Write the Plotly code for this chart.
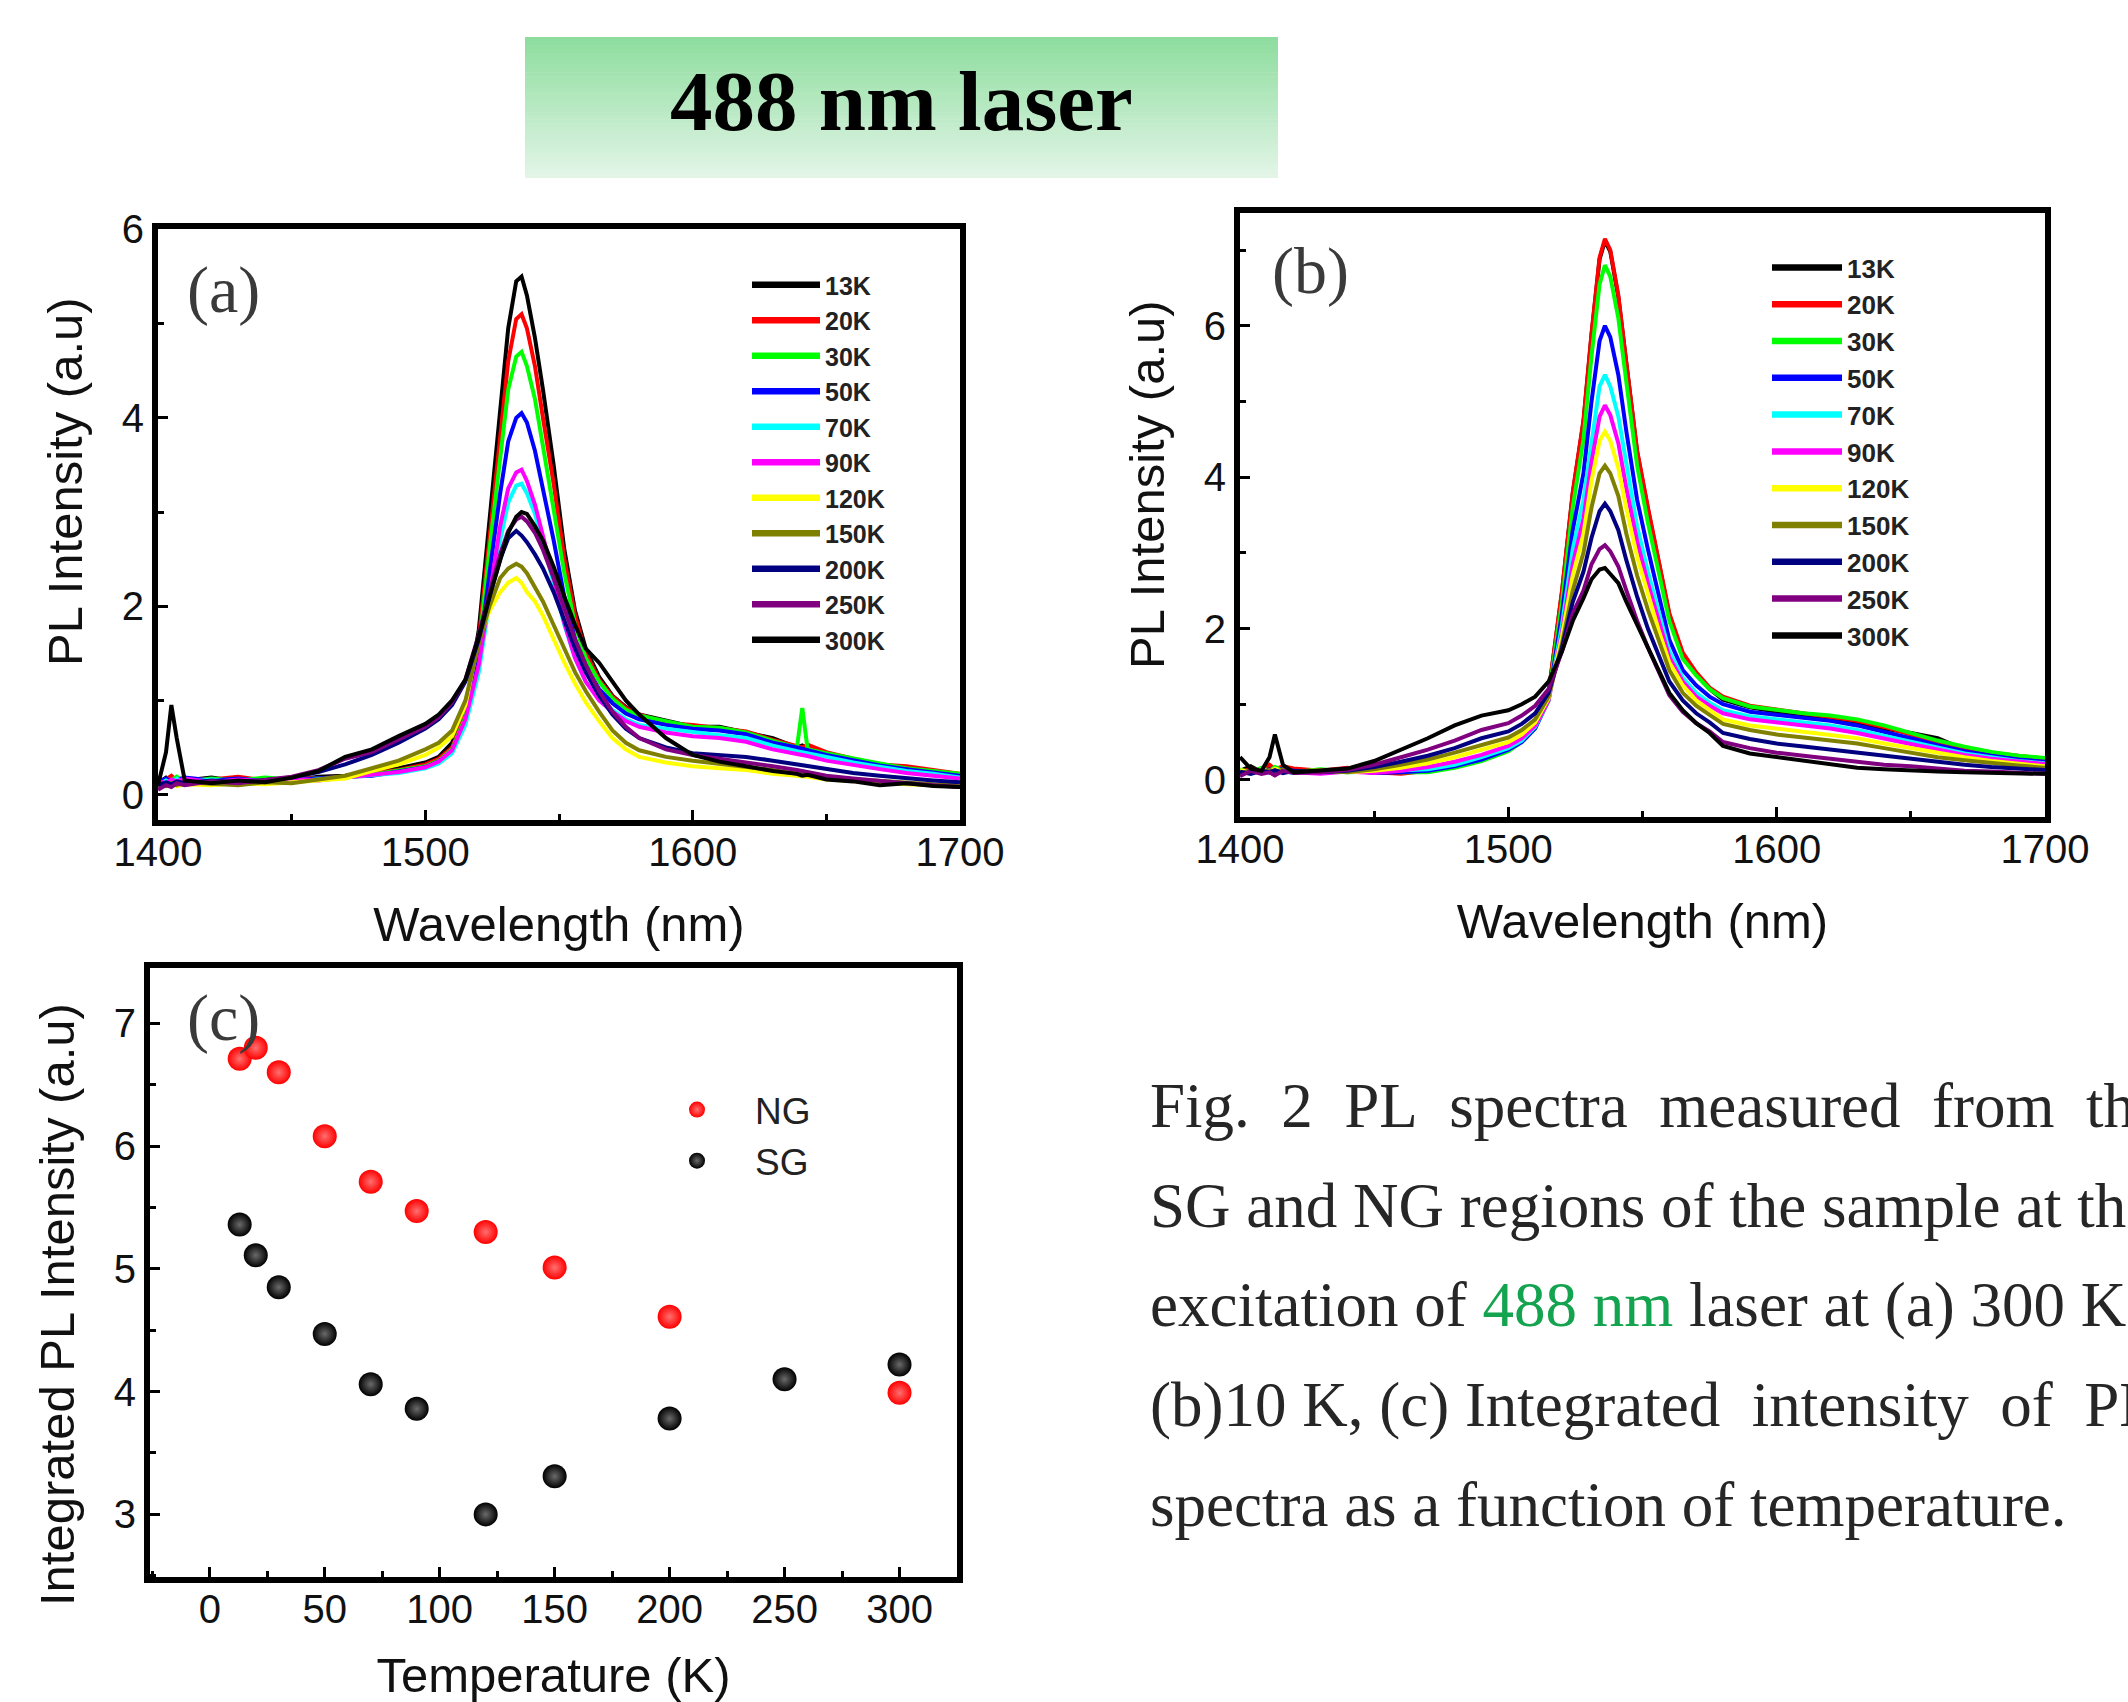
import plotly.graph_objects as go

W, H = 2128, 1702

# ---------------- data ----------------
TEMPS = ["13K", "20K", "30K", "50K", "70K", "90K", "120K", "150K", "200K", "250K", "300K"]
COLORS = ["#000000", "#FF0000", "#00FF00", "#0000FF", "#00FFFF", "#FF00FF",
          "#FFFF00", "#808000", "#000080", "#800080", "#000000"]

WAVELENGTH_A = [1400, 1403, 1405, 1407, 1410, 1420, 1430, 1440, 1450, 1460, 1470, 1480, 1490, 1500,
                1505, 1510, 1515, 1520, 1524, 1528, 1531, 1534, 1536, 1538, 1541, 1544, 1548, 1552,
                1556, 1560, 1565, 1570, 1575, 1580, 1590, 1600, 1610, 1620, 1630, 1639, 1641, 1643,
                1650, 1660, 1670, 1680, 1690, 1700]

A_13K = [0.12, 0.18, 0.14, 0.17, 0.15, 0.18, 0.14, 0.17, 0.15, 0.19, 0.2, 0.24, 0.28, 0.34, 0.4, 0.55,
         0.9, 1.75, 2.9, 4.1, 4.95, 5.45, 5.5, 5.3, 4.85, 4.3, 3.5, 2.6, 1.95, 1.55, 1.25, 1.05, 0.93,
         0.85, 0.78, 0.72, 0.72, 0.66, 0.6, 0.5, 0.52, 0.48, 0.42, 0.36, 0.3, 0.26, 0.22, 0.2]
A_20K = [0.14, 0.16, 0.2, 0.15, 0.17, 0.16, 0.19, 0.15, 0.18, 0.17, 0.19, 0.22, 0.26, 0.32, 0.38, 0.5,
         0.85, 1.65, 2.75, 3.85, 4.6, 5.05, 5.1, 4.95, 4.55, 4.0, 3.3, 2.5, 1.9, 1.5, 1.22, 1.04, 0.92,
         0.85, 0.76, 0.74, 0.7, 0.67, 0.58, 0.52, 0.5, 0.53, 0.45, 0.38, 0.32, 0.3, 0.26, 0.22]
A_30K = [0.16, 0.13, 0.15, 0.19, 0.14, 0.17, 0.15, 0.18, 0.16, 0.17, 0.18, 0.21, 0.25, 0.3, 0.36, 0.48,
         0.82, 1.55, 2.6, 3.6, 4.3, 4.65, 4.7, 4.55, 4.2, 3.7, 3.05, 2.35, 1.8, 1.45, 1.2, 1.02, 0.9,
         0.84, 0.78, 0.72, 0.71, 0.66, 0.57, 0.5, 0.92, 0.48, 0.44, 0.38, 0.33, 0.28, 0.25, 0.22]
A_50K = [0.13, 0.17, 0.14, 0.16, 0.18, 0.15, 0.17, 0.14, 0.16, 0.18, 0.19, 0.2, 0.24, 0.29, 0.35, 0.46,
         0.78, 1.45, 2.35, 3.2, 3.75, 4.0, 4.05, 3.95, 3.65, 3.25, 2.7, 2.1, 1.65, 1.35, 1.12, 0.97, 0.86,
         0.8, 0.74, 0.7, 0.68, 0.64, 0.55, 0.5, 0.48, 0.47, 0.42, 0.36, 0.31, 0.27, 0.24, 0.2]
A_70K = [0.1, 0.15, 0.12, 0.17, 0.13, 0.16, 0.12, 0.15, 0.14, 0.16, 0.18, 0.2, 0.23, 0.28, 0.33, 0.44,
         0.74, 1.3, 2.05, 2.7, 3.1, 3.28, 3.3, 3.2, 2.98, 2.68, 2.25, 1.8, 1.45, 1.2, 1.02, 0.9, 0.8,
         0.74, 0.7, 0.66, 0.63, 0.6, 0.52, 0.46, 0.45, 0.44, 0.4, 0.34, 0.29, 0.25, 0.22, 0.18]
A_90K = [0.15, 0.12, 0.16, 0.14, 0.17, 0.13, 0.16, 0.14, 0.17, 0.15, 0.18, 0.21, 0.24, 0.29, 0.35, 0.47,
         0.8, 1.38, 2.15, 2.85, 3.25, 3.42, 3.45, 3.33, 3.08, 2.75, 2.3, 1.82, 1.45, 1.2, 1.0, 0.88, 0.78,
         0.72, 0.66, 0.62, 0.6, 0.56, 0.48, 0.43, 0.42, 0.41, 0.36, 0.31, 0.27, 0.23, 0.2, 0.17]
A_120K = [0.08, 0.1, 0.12, 0.09, 0.11, 0.1, 0.12, 0.11, 0.13, 0.15, 0.17, 0.25, 0.32, 0.42, 0.5, 0.62,
          0.95, 1.65, 1.95, 2.15, 2.25, 2.3, 2.25, 2.15, 2.05, 1.9, 1.65, 1.4, 1.18, 0.98, 0.78, 0.6, 0.48,
          0.4, 0.34, 0.3, 0.28, 0.26, 0.22, 0.2, 0.19, 0.19, 0.16, 0.14, 0.12, 0.11, 0.1, 0.09]
A_150K = [0.1, 0.09, 0.12, 0.1, 0.13, 0.11, 0.1, 0.13, 0.12, 0.16, 0.2, 0.28, 0.36, 0.48, 0.55, 0.68,
          1.0, 1.6, 2.0, 2.3, 2.4, 2.45, 2.42, 2.35, 2.2, 2.05, 1.8, 1.55, 1.3, 1.1, 0.88, 0.68, 0.55,
          0.47, 0.4, 0.36, 0.33, 0.3, 0.26, 0.22, 0.21, 0.21, 0.18, 0.16, 0.14, 0.12, 0.11, 0.1]
A_200K = [0.1, 0.13, 0.11, 0.14, 0.12, 0.15, 0.13, 0.16, 0.18, 0.24, 0.32, 0.42, 0.55, 0.7, 0.8, 0.95,
          1.2, 1.65, 2.1, 2.5, 2.72, 2.8, 2.75, 2.68, 2.55, 2.4, 2.15, 1.85, 1.55, 1.3, 1.05, 0.85, 0.7,
          0.6, 0.5, 0.44, 0.42, 0.4, 0.36, 0.32, 0.31, 0.3, 0.27, 0.23, 0.2, 0.17, 0.15, 0.13]
A_250K = [0.05, 0.1, 0.08, 0.12, 0.1, 0.14, 0.12, 0.16, 0.19, 0.26, 0.38, 0.45, 0.58, 0.72, 0.82, 0.98,
          1.22, 1.7, 2.15, 2.55, 2.8, 2.92, 2.95, 2.9, 2.78, 2.6, 2.3, 1.98, 1.65, 1.38, 1.1, 0.88, 0.72,
          0.6, 0.48, 0.42, 0.38, 0.35, 0.3, 0.26, 0.25, 0.24, 0.2, 0.17, 0.14, 0.12, 0.1, 0.08]
A_300K = [0.1, 0.45, 0.95, 0.6, 0.15, 0.12, 0.15, 0.13, 0.18, 0.25, 0.4, 0.48, 0.62, 0.75, 0.85, 1.0,
          1.22, 1.68, 2.1, 2.5, 2.78, 2.95, 3.0, 2.98, 2.85, 2.7, 2.42, 2.1, 1.8, 1.55, 1.4, 1.2, 1.0,
          0.85, 0.6, 0.42, 0.35, 0.3, 0.25, 0.22, 0.2, 0.21, 0.16, 0.14, 0.1, 0.12, 0.09, 0.08]

WAVELENGTH_B = [1400, 1404, 1408, 1411, 1413, 1416, 1420, 1430, 1440, 1450, 1460, 1470, 1480, 1490,
                1500, 1505, 1510, 1515, 1520, 1524, 1528, 1531, 1534, 1536, 1538, 1541, 1544, 1548,
                1552, 1556, 1560, 1565, 1570, 1575, 1580, 1590, 1600, 1610, 1620, 1630, 1640, 1650,
                1660, 1670, 1680, 1690, 1700]

B_13K = [0.12, 0.18, 0.1, 0.15, 0.12, 0.16, 0.14, 0.11, 0.15, 0.1, 0.09, 0.13, 0.17, 0.27, 0.4, 0.53,
         0.71, 1.14, 2.48, 3.78, 4.73, 5.88, 6.88, 7.12, 6.98, 6.38, 5.48, 4.33, 3.58, 2.88, 2.18, 1.66,
         1.4, 1.2, 1.06, 0.96, 0.9, 0.86, 0.82, 0.76, 0.68, 0.62, 0.55, 0.4, 0.33, 0.3, 0.26]
B_20K = [0.1, 0.15, 0.12, 0.2, 0.14, 0.18, 0.15, 0.12, 0.16, 0.1, 0.08, 0.12, 0.18, 0.28, 0.42, 0.55,
         0.72, 1.15, 2.5, 3.8, 4.75, 5.9, 6.9, 7.15, 7.0, 6.4, 5.5, 4.35, 3.6, 2.9, 2.2, 1.68, 1.42,
         1.22, 1.1, 0.98, 0.93, 0.88, 0.84, 0.78, 0.7, 0.6, 0.5, 0.42, 0.36, 0.32, 0.28]
B_30K = [0.14, 0.1, 0.16, 0.12, 0.17, 0.13, 0.1, 0.14, 0.11, 0.12, 0.1, 0.1, 0.16, 0.25, 0.38, 0.5,
         0.68, 1.1, 2.35, 3.6, 4.5, 5.6, 6.55, 6.8, 6.65, 6.1, 5.25, 4.15, 3.4, 2.75, 2.1, 1.6, 1.38,
         1.2, 1.08, 0.97, 0.92, 0.88, 0.85, 0.8, 0.72, 0.62, 0.52, 0.44, 0.37, 0.32, 0.29]
B_50K = [0.1, 0.13, 0.09, 0.14, 0.11, 0.15, 0.12, 0.1, 0.13, 0.09, 0.1, 0.12, 0.18, 0.27, 0.4, 0.5,
         0.68, 1.05, 2.2, 3.3, 4.05, 5.0, 5.8, 6.0, 5.85, 5.35, 4.6, 3.7, 3.05, 2.45, 1.85, 1.45, 1.25,
         1.1, 1.0, 0.9, 0.86, 0.82, 0.78, 0.72, 0.64, 0.55, 0.46, 0.38, 0.32, 0.27, 0.24]
B_70K = [0.12, 0.09, 0.14, 0.1, 0.13, 0.11, 0.09, 0.12, 0.1, 0.11, 0.12, 0.14, 0.2, 0.3, 0.42, 0.52,
         0.7, 1.05, 2.05, 3.05, 3.7, 4.5, 5.2, 5.35, 5.2, 4.8, 4.15, 3.35, 2.75, 2.2, 1.7, 1.35, 1.15,
         1.02, 0.92, 0.84, 0.8, 0.76, 0.72, 0.66, 0.58, 0.5, 0.42, 0.35, 0.3, 0.25, 0.22]
B_90K = [0.08, 0.12, 0.1, 0.13, 0.09, 0.12, 0.1, 0.08, 0.11, 0.09, 0.12, 0.17, 0.24, 0.33, 0.45, 0.55,
         0.72, 1.05, 1.95, 2.85, 3.45, 4.2, 4.8, 4.95, 4.82, 4.45, 3.85, 3.15, 2.6, 2.1, 1.62, 1.3, 1.1,
         0.98, 0.88, 0.8, 0.76, 0.72, 0.68, 0.62, 0.55, 0.47, 0.4, 0.33, 0.28, 0.24, 0.21]
B_120K = [0.13, 0.1, 0.14, 0.11, 0.15, 0.12, 0.1, 0.13, 0.1, 0.12, 0.16, 0.22, 0.3, 0.4, 0.5, 0.6,
          0.76, 1.08, 1.9, 2.7, 3.25, 3.95, 4.48, 4.6, 4.48, 4.12, 3.58, 2.95, 2.45, 1.98, 1.55, 1.25,
          1.05, 0.92, 0.8, 0.72, 0.68, 0.64, 0.6, 0.55, 0.48, 0.42, 0.35, 0.3, 0.25, 0.21, 0.18]
B_150K = [0.09, 0.12, 0.1, 0.13, 0.1, 0.14, 0.11, 0.12, 0.1, 0.14, 0.2, 0.27, 0.36, 0.46, 0.56, 0.66,
          0.8, 1.1, 1.8, 2.5, 3.0, 3.6, 4.05, 4.15, 4.05, 3.75, 3.25, 2.7, 2.25, 1.85, 1.45, 1.15, 0.98,
          0.86, 0.74, 0.66, 0.6, 0.56, 0.52, 0.48, 0.42, 0.36, 0.3, 0.26, 0.22, 0.19, 0.16]
B_200K = [0.11, 0.08, 0.12, 0.1, 0.13, 0.09, 0.12, 0.1, 0.12, 0.17, 0.24, 0.32, 0.42, 0.55, 0.64, 0.74,
          0.88, 1.15, 1.75, 2.35, 2.75, 3.2, 3.55, 3.65, 3.55, 3.3, 2.9, 2.42, 2.0, 1.65, 1.3, 1.05,
          0.88, 0.76, 0.62, 0.54, 0.48, 0.44, 0.4, 0.36, 0.31, 0.27, 0.23, 0.2, 0.17, 0.15, 0.13]
B_250K = [0.05, 0.12, 0.08, 0.1, 0.06, 0.12, 0.09, 0.1, 0.13, 0.2, 0.3, 0.4, 0.52, 0.66, 0.75, 0.85,
          0.98, 1.2, 1.7, 2.2, 2.5, 2.85, 3.05, 3.1, 3.02, 2.82, 2.5, 2.1, 1.75, 1.42, 1.12, 0.9, 0.75,
          0.64, 0.5, 0.42, 0.36, 0.32, 0.28, 0.24, 0.2, 0.18, 0.15, 0.12, 0.11, 0.09, 0.08]
B_300K = [0.3, 0.15, 0.12, 0.3, 0.6, 0.2, 0.1, 0.12, 0.15, 0.25, 0.4, 0.55, 0.72, 0.85, 0.92, 1.0,
          1.1, 1.3, 1.7, 2.1, 2.4, 2.65, 2.78, 2.8, 2.72, 2.6, 2.35, 2.05, 1.75, 1.45, 1.15, 0.92, 0.75,
          0.62, 0.45, 0.35, 0.3, 0.25, 0.2, 0.16, 0.14, 0.12, 0.11, 0.1, 0.09, 0.08, 0.08]

T_NG = [13, 20, 30, 50, 70, 90, 120, 150, 200, 300]
NG = [6.71, 6.80, 6.60, 6.08, 5.71, 5.47, 5.30, 5.01, 4.61, 3.99]
T_SG = [13, 20, 30, 50, 70, 90, 120, 150, 200, 250, 300]
SG = [5.36, 5.11, 4.85, 4.47, 4.06, 3.86, 3.00, 3.31, 3.78, 4.10, 4.22]

SPECTRA_A = [A_13K, A_20K, A_30K, A_50K, A_70K, A_90K, A_120K, A_150K, A_200K, A_250K, A_300K]
SPECTRA_B = [B_13K, B_20K, B_30K, B_50K, B_70K, B_90K, B_120K, B_150K, B_200K, B_250K, B_300K]

SANS = "Liberation Sans, Arial, sans-serif"
SERIF = "Liberation Serif, Times New Roman, serif"


def px(v):
    return v / W


def py(v):
    return 1 - v / H


fig = go.Figure()

# spectra panels (a) and (b)
for name, col, ya, yb in zip(TEMPS, COLORS, SPECTRA_A, SPECTRA_B):
    fig.add_trace(go.Scatter(x=WAVELENGTH_A, y=ya, mode="lines", line=dict(color=col, width=4),
                             showlegend=False, xaxis="x", yaxis="y", hoverinfo="skip"))
    fig.add_trace(go.Scatter(x=WAVELENGTH_B, y=yb, mode="lines", line=dict(color=col, width=4),
                             showlegend=False, xaxis="x2", yaxis="y2", hoverinfo="skip"))
# legend entries
for name, col in zip(TEMPS, COLORS):
    fig.add_trace(go.Scatter(x=[None], y=[None], mode="lines", name=name,
                             line=dict(color=col, width=6.5), legend="legend",
                             xaxis="x", yaxis="y"))
    fig.add_trace(go.Scatter(x=[None], y=[None], mode="lines", name=name,
                             line=dict(color=col, width=6.5), legend="legend2",
                             xaxis="x2", yaxis="y2"))

# panel (c)
fig.add_trace(go.Scatter(x=T_NG, y=NG, mode="markers", name="NG", legend="legend3",
                         marker=dict(size=24, color="#FF0000",
                                     gradient=dict(type="radial", color="#FF7070")),
                         xaxis="x3", yaxis="y3"))
fig.add_trace(go.Scatter(x=T_SG, y=SG, mode="markers", name="SG", legend="legend3",
                         marker=dict(size=24, color="#000000",
                                     gradient=dict(type="radial", color="#6A6A6A")),
                         xaxis="x3", yaxis="y3"))

axis_common = dict(showline=True, linewidth=6, linecolor="black", mirror=True,
                   ticks="inside", ticklen=10, tickwidth=3, tickcolor="black",
                   showgrid=False, zeroline=False, automargin=False,
                   tickfont=dict(family=SANS, size=40, color="#111"))
minor_x = dict(ticks="inside", ticklen=6, tickwidth=3, tickcolor="black")

fig.update_layout(
    width=W, height=H, margin=dict(l=0, r=0, t=0, b=0, autoexpand=False),
    paper_bgcolor="white", plot_bgcolor="white",
    xaxis=dict(domain=[px(158), px(960)], range=[1400, 1700], anchor="y", dtick=100,
               minor=dict(dtick=50, **minor_x), ticklabelstandoff=-8,
               title=dict(text="Wavelength (nm)", font=dict(family=SANS, size=49, color="#111"),
                          standoff=36),
               **axis_common),
    yaxis=dict(domain=[py(820), py(229)], range=[-0.27, 6.005], anchor="x", dtick=2,
               minor=dict(dtick=1, **minor_x),
               **axis_common),
    xaxis2=dict(domain=[px(1240), px(2045)], range=[1400, 1700], anchor="y2", dtick=100,
                minor=dict(dtick=50, **minor_x), ticklabelstandoff=-8,
                title=dict(text="Wavelength (nm)", font=dict(family=SANS, size=49, color="#111"),
                           standoff=36),
                **axis_common),
    yaxis2=dict(domain=[py(817), py(213)], range=[-0.49, 7.49], anchor="x2", dtick=2,
                minor=dict(dtick=1, **minor_x),
                **axis_common),
    xaxis3=dict(domain=[px(150), px(957)], range=[-26, 325], anchor="y3", dtick=50, tick0=0,
                minor=dict(dtick=25, **minor_x), ticklabelstandoff=-8,
                title=dict(text="Temperature (K)", font=dict(family=SANS, size=49, color="#111"),
                           standoff=42),
                **axis_common),
    yaxis3=dict(domain=[py(1577), py(968)], range=[2.49, 7.45], anchor="x3", dtick=1,
                minor=dict(dtick=0.5, **minor_x),
                **axis_common),
    legend=dict(x=px(747), y=py(262), xanchor="left", yanchor="top", bgcolor="rgba(0,0,0,0)",
                font=dict(family=SANS, size=25, color="#222", weight="bold"),
                itemwidth=68, tracegroupgap=0),
    legend2=dict(x=px(1767), y=py(244), xanchor="left", yanchor="top", bgcolor="rgba(0,0,0,0)",
                 font=dict(family=SANS, size=26, color="#222", weight="bold"),
                 itemwidth=70, tracegroupgap=0),
    legend3=dict(x=px(639), y=py(1079), xanchor="left", yanchor="top", bgcolor="rgba(0,0,0,0)",
                 font=dict(family=SANS, size=37, color="#222"),
                 itemwidth=106, tracegroupgap=0),
)

# title box with vertical green gradient
top_rgb = (142, 221, 159)
bot_rgb = (226, 245, 230)
y_top, y_bot = 37, 178
n_bands = 36
shapes = []
for i in range(n_bands):
    f = i / (n_bands - 1)
    c = tuple(round(top_rgb[k] + (bot_rgb[k] - top_rgb[k]) * f) for k in range(3))
    y0 = y_top + (y_bot - y_top) * i / n_bands
    y1 = y_top + (y_bot - y_top) * (i + 1) / n_bands + 0.6
    shapes.append(dict(type="rect", xref="paper", yref="paper", x0=px(525), x1=px(1278),
                       y0=py(min(y1, y_bot)), y1=py(y0), line=dict(width=0),
                       fillcolor="rgb(%d,%d,%d)" % c, layer="below"))
fig.update_layout(shapes=shapes)

ann = []
ann.append(dict(text="<b>488 nm laser</b>", x=px(901), y=py(101), xref="paper", yref="paper",
                showarrow=False, xanchor="center", yanchor="middle",
                font=dict(family=SERIF, size=85, color="black")))
# panel labels
for lab, (cx, cy) in zip(["(a)", "(b)", "(c)"], [(223, 290), (1310, 271), (223, 1018)]):
    ann.append(dict(text=lab, x=px(cx), y=py(cy), xref="paper", yref="paper", showarrow=False,
                    xanchor="center", yanchor="middle",
                    font=dict(family=SERIF, size=66, color="#3A3A3A")))
# y axis titles
for txt, (cx, cy) in zip(["PL Intensity (a.u)", "PL Intensity (a.u)", "Integrated PL Intensity (a.u)"],
                         [(65, 482), (1147, 485), (57, 1305)]):
    ann.append(dict(text=txt, x=px(cx), y=py(cy), xref="paper", yref="paper", showarrow=False,
                    xanchor="center", yanchor="middle", textangle=-90,
                    font=dict(family=SANS, size=49, color="#111")))
# caption
NB = "\u00a0"
caption = [
    "Fig." + NB * 2 + "2" + NB * 2 + "PL" + NB * 2 + "spectra" + NB * 2 + "measured" + NB * 2
    + "from" + NB * 2 + "the",
    "SG and NG regions of the sample at the",
    "excitation of <span style='color:#14A34F'>488 nm</span> laser at (a) 300 K,",
    "(b)10 K," + NB + "(c)" + NB + "Integrated" + NB * 2 + "intensity" + NB * 2 + "of" + NB * 2 + "PL",
    "spectra as a function of temperature.",
]
for i, line in enumerate(caption):
    ann.append(dict(text=line, x=px(1148), y=py(1106 + 99.7 * i), xref="paper", yref="paper",
                    showarrow=False, xanchor="left", yanchor="middle", align="left",
                    font=dict(family=SERIF, size=63, color="#262626")))
fig.update_layout(annotations=ann)

fig.write_html("out.html", config={"displayModeBar": False},
               post_script="document.body.style.margin='0px';")
